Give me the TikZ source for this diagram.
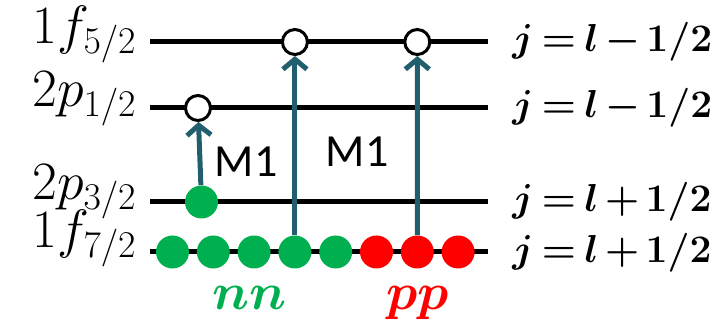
\RequirePackage{fix-cm}
\documentclass[tikz,border=0pt]{standalone}
\usepackage{amsmath,bm}
\usepackage{fontspec}
\newfontfamily\mfont{Carlito}
\usetikzlibrary{arrows.meta}
\definecolor{ngreen}{HTML}{00B050}
\definecolor{pred}{HTML}{FF0000}
\definecolor{arrowc}{HTML}{215F6F}
\tikzset{
  level/.style={line width=2.5pt,black},
  full/.style={circle,fill=#1,inner sep=0pt,minimum size=16.5pt},
  hole/.style={circle,draw=black,fill=white,line width=1.5pt,inner sep=0pt,minimum size=12.5pt},
  trans/.style={line width=2.5pt,arrowc,-{Straight Barb[length=5pt,width=12pt]}},
  orbit/.style={anchor=base east,inner sep=0pt,font=\fontsize{27}{30}\selectfont},
  jval/.style={anchor=base west,inner sep=0pt,font=\fontsize{19.5}{22}\selectfont},
  mone/.style={anchor=base,font=\fontsize{23}{26}\selectfont\mfont},
  pair/.style={anchor=base,font=\fontsize{26}{28}\selectfont}
}
\begin{document}
\begin{tikzpicture}[x=0.5pt,y=-0.5pt]
\useasboundingbox (0,0) rectangle (725,331);
% levels
\foreach \y/\n in {42/a,108/b,202/c,252/d}
\draw[level] (150,\y) coordinate (\n L) -- (488,\y) coordinate (\n R);
\node[orbit] (la) at (137,44) {$1f_{5/2}$};
\node[orbit] (lb) at (137,107) {$2p_{1/2}$};
\node[orbit] (lc) at (137,200) {$2p_{3/2}$};
\node[orbit] (ld) at (137,248) {$1f_{7/2}$};
\node[jval] (ja) at (512,52) {$\thickmuskip=4mu\medmuskip=3mu\bm{j=l-1/2}$};
\node[jval] (jb) at (512,118) {$\thickmuskip=4mu\medmuskip=3mu\bm{j=l-1/2}$};
\node[jval] (jc) at (512,212) {$\thickmuskip=4mu\medmuskip=3mu\bm{j=l+1/2}$};
\node[jval] (jd) at (512,263) {$\thickmuskip=4mu\medmuskip=3mu\bm{j=l+1/2}$};
% particles
\foreach \i in {0,...,4}
\node[full=ngreen] (d\i) at ({172.5+40.8*\i},252) {};
\foreach \i in {5,6,7}
\node[full=pred] (d\i) at ({172.5+40.8*\i},252) {};
\node[full=ngreen] (c0) at (201.5,202) {};
% holes
\node[hole] (h1) at (198,108) {};
\node[hole] (h2) at (294.9,42) {};
\node[hole] (h3) at (417.3,42) {};
\draw[trans] (c0) -- (h1);
\draw[trans] (d3) -- (h2);
\draw[trans] (d6) -- (h3);
\node[mone] (m1) at (246,177) {M1};
\node[mone] (m2) at (357,167) {M1};
\node[pair,text=ngreen] (nn) at (250,310) {$\bm{nn}$};
\node[pair,text=pred] (pp) at (418,310) {$\bm{pp}$};
\end{tikzpicture}
\end{document}
